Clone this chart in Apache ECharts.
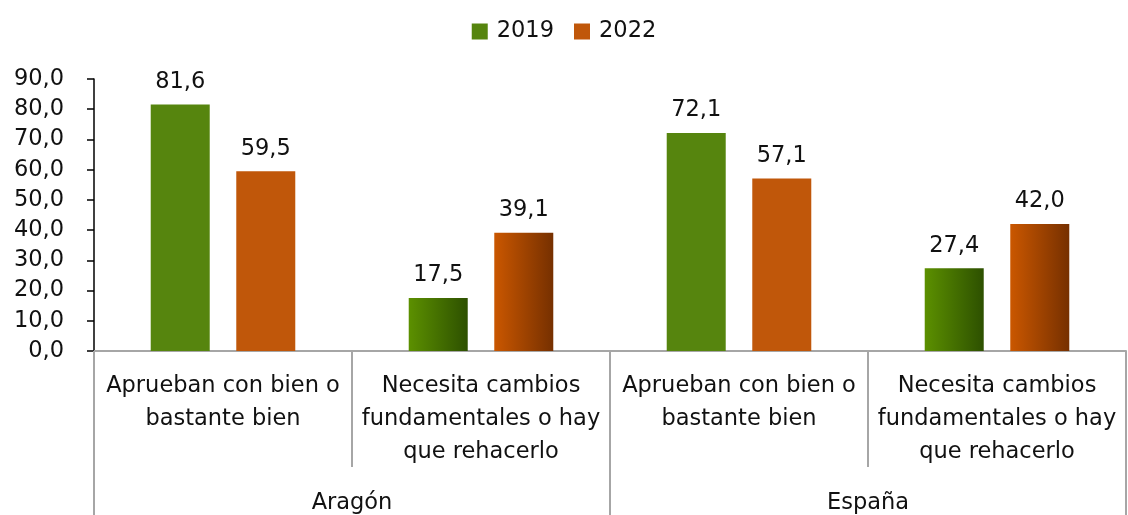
<!DOCTYPE html>
<html>
<head>
<meta charset="utf-8">
<script src="https://cdn.jsdelivr.net/npm/echarts@6/dist/echarts.min.js"></script>
<style>
  html, body { margin: 0; padding: 0; background: #fff; }
  #chart { width: 1128px; height: 515px; }
</style>
</head>
<body>
<div id="chart"></div>
<script>
// Survey answers by region, 2019 vs 2022 (%)
const groups = ['Aragón', 'España'];
const categories = [
  'Aprueban con bien o\nbastante bien',
  'Necesita cambios\nfundamentales o hay\nque rehacerlo',
  'Aprueban con bien o\nbastante bien',
  'Necesita cambios\nfundamentales o hay\nque rehacerlo'
];
const seriesNames = ['2019', '2022'];
const values2019 = [81.6, 17.5, 72.1, 27.4];
const values2022 = [59.5, 39.1, 57.1, 42.0];
const yTicks = { min: 0, max: 90, interval: 10 };

const FONT = 'DejaVu Sans';
const TEXT = '#111';
const SIZE = 22.5;
const green = '#56850E';
const orange = '#C0570A';
const greenGrad = { type: 'linear', x: 0, y: 0, x2: 1, y2: 0,
  colorStops: [{ offset: 0, color: '#5C9000' }, { offset: 1, color: '#2D5000' }] };
const orangeGrad = { type: 'linear', x: 0, y: 0, x2: 1, y2: 0,
  colorStops: [{ offset: 0, color: '#CA5700' }, { offset: 1, color: '#763000' }] };

// "Necesita cambios" bars (odd indices) are drawn with a shaded fill
function buildData(values, flat, grad) {
  return values.map((v, i) => ({ value: v, itemStyle: { color: i % 2 === 1 ? grad : flat } }));
}
const fmt = v => Number(v).toFixed(1).replace('.', ',');

const barLabel = {
  show: true, position: 'top', distance: 11,
  fontFamily: FONT, fontSize: SIZE, color: TEXT,
  formatter: p => fmt(p.value)
};

const chart = echarts.init(document.getElementById('chart'));
chart.setOption({
  animation: false,
  textStyle: { fontFamily: FONT },
  legend: {
    top: 15,
    left: 'center',
    itemWidth: 16,
    itemHeight: 16,
    itemGap: 20,
    icon: 'rect',
    textStyle: { fontFamily: FONT, fontSize: SIZE, color: TEXT, padding: [0, 0, 0, 4] },
    data: seriesNames
  },
  grid: { left: 94, right: 2, top: 79, bottom: 164, containLabel: false },
  xAxis: [
    {
      type: 'category',
      data: categories,
      position: 'bottom',
      axisLine: { show: true, lineStyle: { color: '#A6A6A6', width: 2 } },
      axisTick: { show: true, interval: 0, length: 116, lineStyle: { color: '#A6A6A6', width: 2 } },
      axisLabel: {
        interval: 0, margin: 19, fontFamily: FONT, fontSize: SIZE,
        lineHeight: 33, color: TEXT, align: 'center'
      }
    },
    {
      type: 'category',
      data: groups,
      position: 'bottom',
      axisLine: { show: false },
      axisTick: { show: true, interval: 0, length: 170, lineStyle: { color: '#A6A6A6', width: 2 } },
      axisLabel: { interval: 0, margin: 141, fontFamily: FONT, fontSize: SIZE, color: TEXT }
    }
  ],
  yAxis: {
    type: 'value',
    min: yTicks.min,
    max: yTicks.max,
    interval: yTicks.interval,
    axisLine: { show: true, lineStyle: { color: '#000', width: 1.5 } },
    axisTick: { show: true, length: 7, lineStyle: { color: '#000', width: 1.5 } },
    splitLine: { show: false },
    axisLabel: { margin: 30, fontFamily: FONT, fontSize: SIZE, color: TEXT, formatter: fmt }
  },
  series: [
    {
      name: seriesNames[0],
      type: 'bar',
      xAxisIndex: 0,
      barWidth: 59,
      barGap: '45%',
      itemStyle: { color: green },
      data: buildData(values2019, green, greenGrad),
      label: barLabel
    },
    {
      name: seriesNames[1],
      type: 'bar',
      xAxisIndex: 0,
      barWidth: 59,
      barGap: '45%',
      itemStyle: { color: orange },
      data: buildData(values2022, orange, orangeGrad),
      label: barLabel
    }
  ]
});
</script>
</body>
</html>
